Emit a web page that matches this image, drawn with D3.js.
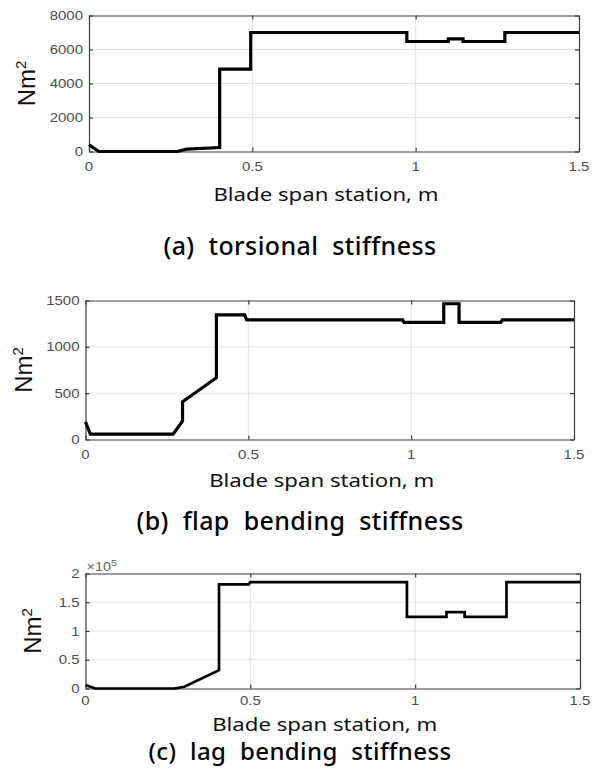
<!DOCTYPE html>
<html><head><meta charset="utf-8">
<script src="https://cdn.jsdelivr.net/npm/d3@7/dist/d3.min.js"></script>
<style>
html,body{margin:0;padding:0;background:#fff;}
svg{display:block;}
</style></head>
<body><svg id="c" width="594" height="770"></svg>
<script>
// ---- data ----
const xTicks = [0, 0.5, 1, 1.5];
const xTickLabels = ["0", "0.5", "1", "1.5"];

// (a) torsional stiffness, Nm^2
const torsionX = [0, 0.03, 0.27, 0.30, 0.40, 0.40, 0.495, 0.495, 0.973, 0.973, 1.10, 1.10, 1.145, 1.145, 1.273, 1.273, 1.5];
const torsionY = [400, 0, 0, 140, 235, 4850, 4850, 7000, 7000, 6470, 6470, 6630, 6630, 6470, 6470, 7000, 7000];
const torsionTicks = [0, 2000, 4000, 6000, 8000];

// (b) flap bending stiffness, Nm^2
const flapX = [0, 0.015, 0.269, 0.298, 0.298, 0.402, 0.402, 0.489, 0.495, 0.974, 0.978, 1.10, 1.10, 1.147, 1.147, 1.275, 1.28, 1.5];
const flapY = [190, 57, 57, 201, 407, 667, 1345, 1345, 1290, 1290, 1264, 1264, 1465, 1465, 1264, 1264, 1290, 1290];
const flapTicks = [0, 500, 1000, 1500];

// (c) lag bending stiffness, Nm^2
const lagX = [0, 0.03, 0.27, 0.30, 0.405, 0.405, 0.495, 0.50, 0.975, 0.975, 1.095, 1.095, 1.15, 1.15, 1.277, 1.277, 1.5];
const lagY = [6000, 0, 0, 3000, 32000, 181000, 181000, 185000, 185000, 124500, 124500, 133000, 133000, 124500, 124500, 185000, 185000];
const lagTicks = [0, 50000, 100000, 150000, 200000];
const lagTickLabels = ["0", "0.5", "1", "1.5", "2"];

const yLabel = "Nm";
const xLabel = "Blade span station, m";
const captions = ["(a) torsional stiffness", "(b) flap bending stiffness", "(c) lag bending stiffness"];

// ---- layout ----
const panels = [
  {x: torsionX, y: torsionY, ticks: torsionTicks, tickLabels: torsionTicks.map(String), ymax: 8000,
   L: 89, R: 579, T: 15.5, B: 151.5, ylabX: 27, xtY: 19, xlabY: 195, capY: 247, capFs: 25},
  {x: flapX, y: flapY, ticks: flapTicks, tickLabels: flapTicks.map(String), ymax: 1500,
   L: 85.5, R: 574, T: 300.5, B: 439.5, ylabX: 24, xtY: 19, xlabY: 481, capY: 522, capFs: 25},
  {x: lagX, y: lagY, ticks: lagTicks, tickLabels: lagTickLabels, ymax: 200000, exp: true,
   L: 85.5, R: 580, T: 573.5, B: 688.5, ylabX: 33, xtY: 16.5, xlabY: 725, capY: 752, capFs: 24}
];

const svg = d3.select("#c");
const axisCol = "#3c3c3c";
const tickTextCol = "#4d4d4d";

panels.forEach((p, i) => {
  const xs = d3.scaleLinear().domain([0, 1.5]).range([p.L, p.R]);
  const ys = d3.scaleLinear().domain([0, p.ymax]).range([p.B, p.T]);
  const g = svg.append("g");

  // grid
  g.selectAll(".gy").data(p.ticks.slice(1, -1)).join("line")
    .attr("x1", p.L).attr("x2", p.R).attr("y1", d => ys(d)).attr("y2", d => ys(d))
    .attr("stroke", "#e3e3e3").attr("stroke-width", 1);
  g.selectAll(".gx").data(xTicks.slice(1, -1)).join("line")
    .attr("y1", p.T).attr("y2", p.B).attr("x1", d => xs(d)).attr("x2", d => xs(d))
    .attr("stroke", "#e3e3e3").attr("stroke-width", 1);

  // axes with inward ticks
  const ax = d3.axisBottom(xs).tickValues(xTicks).tickSizeInner(-4).tickSizeOuter(0).tickFormat("");
  const axTop = d3.axisTop(xs).tickValues(xTicks).tickSizeInner(-4).tickSizeOuter(0).tickFormat("");
  const ay = d3.axisLeft(ys).tickValues(p.ticks).tickSizeInner(-4).tickSizeOuter(0).tickFormat("");
  const ayR = d3.axisRight(ys).tickValues(p.ticks).tickSizeInner(-4).tickSizeOuter(0).tickFormat("");
  [[ax, `translate(0,${p.B})`], [axTop, `translate(0,${p.T})`], [ay, `translate(${p.L},0)`], [ayR, `translate(${p.R},0)`]]
    .forEach(([a, t]) => {
      const ag = g.append("g").attr("transform", t).call(a);
      ag.selectAll("path,line").attr("stroke", axisCol).attr("stroke-width", 1.2);
    });

  // tick labels
  g.selectAll(".xl").data(xTicks).join("text")
    .attr("transform", (d) => `translate(${xs(d)},${p.B + p.xtY}) scale(1.2,1)`)
    .attr("text-anchor", "middle")
    .attr("font-family", "Liberation Sans, Arial, sans-serif").attr("font-size", 12.5)
    .attr("fill", tickTextCol)
    .text((d, j) => xTickLabels[j]);
  g.selectAll(".yl").data(p.ticks).join("text")
    .attr("transform", (d) => `translate(${p.L - 6},${ys(d) + 4.5}) scale(1.2,1)`)
    .attr("text-anchor", "end")
    .attr("font-family", "Liberation Sans, Arial, sans-serif").attr("font-size", 12.5)
    .attr("fill", tickTextCol)
    .text((d, j) => p.tickLabels[j]);

  if (p.exp) {
    const t = g.append("text")
      .attr("transform", `translate(${p.L + 1},${p.T - 3}) scale(1.15,1)`)
      .attr("font-family", "Liberation Sans, Arial, sans-serif").attr("font-size", 12.5)
      .attr("fill", "#666");
    t.append("tspan").text("\u00d710");
    t.append("tspan").attr("font-size", 9).attr("dy", -5).text("5");
  }

  // data line
  const pts = p.x.map((v, k) => [v, p.y[k]]);
  g.append("path").datum(pts)
    .attr("d", d3.line().x(d => xs(d[0])).y(d => ys(d[1])))
    .attr("fill", "none").attr("stroke", "#000").attr("stroke-width", i === 2 ? 2.7 : 3.2)
    .attr("stroke-linejoin", "miter");

  // y label
  const yc = (p.T + p.B) / 2;
  const yl = g.append("text")
    .attr("transform", `translate(${p.ylabX + 8},${yc}) rotate(-90)`)
    .attr("text-anchor", "middle")
    .attr("font-family", "Liberation Sans, Arial, sans-serif").attr("font-size", 24)
    .attr("fill", "#111");
  yl.append("tspan").text(yLabel);
  yl.append("tspan").attr("font-size", 15).attr("dy", -9).text("2");

  // x label
  g.append("text")
    .attr("transform", `translate(${(p.L + p.R) / 2 - 8},${p.xlabY + 6}) scale(1.2,1)`)
    .attr("text-anchor", "middle")
    .attr("font-family", "Noto Sans, sans-serif").attr("font-size", 18.5)
    .attr("fill", "#111")
    .text(xLabel);

  // caption
  g.append("text")
    .attr("transform", `translate(300,${p.capY + 8})`)
    .attr("text-anchor", "middle")
    .attr("font-family", "Noto Sans, sans-serif").attr("font-size", p.capFs).attr("font-weight", 500)
    .attr("word-spacing", 7).attr("letter-spacing", 0.4)
    .attr("fill", "#000")
    .text(captions[i]);
});
</script></body></html>
